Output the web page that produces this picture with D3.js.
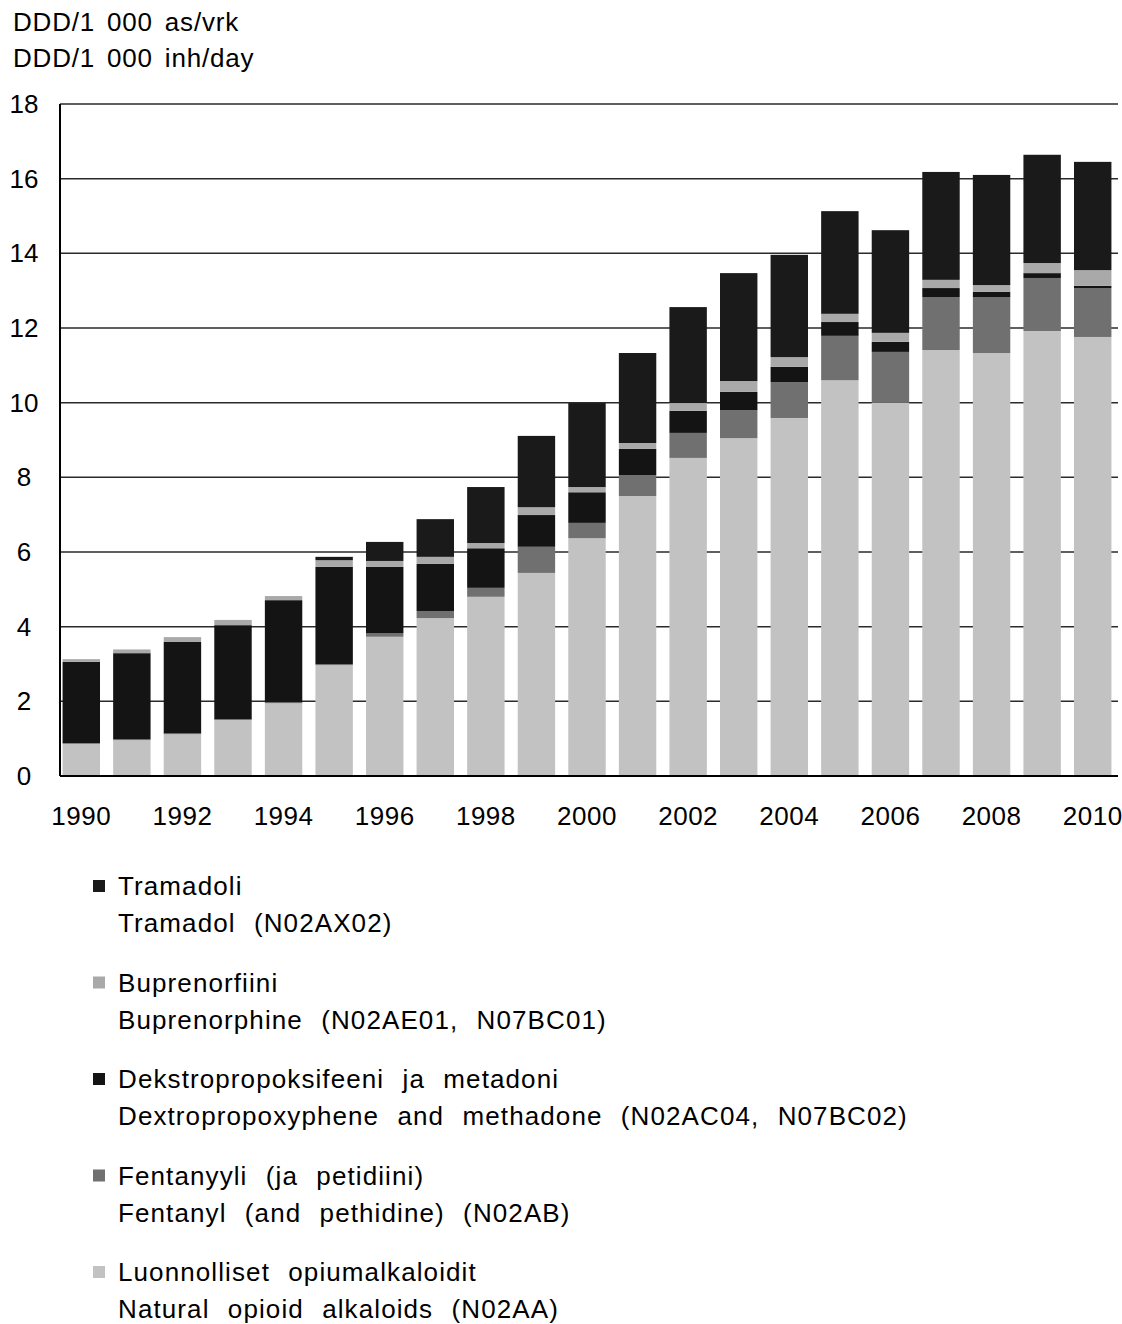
<!DOCTYPE html>
<html lang="fi">
<head>
<meta charset="UTF-8">
<title>Opioidien kulutus</title>
<script src="https://cdn.jsdelivr.net/npm/d3@7"></script>
<style>
  body { margin: 0; background: #fff; }
  svg { display: block; font-family: "Liberation Sans", Arial, sans-serif; }
</style>
</head>
<body>
<svg id="chart" width="1122" height="1324"></svg>
<script>
// years on the x axis
const years = d3.range(1990, 2011);
const yearLabels = years.filter(y => y % 2 === 0);
const yTicks = [0, 2, 4, 6, 8, 10, 12, 14, 16, 18];

// DDD/1000 inh/day (bottom to top of the stack)
const natural  = [0.86, 0.96, 1.12, 1.50, 1.95, 2.97, 3.73, 4.23, 4.80, 5.44, 6.37, 7.50, 8.52, 9.05, 9.59, 10.60, 10.00, 11.41, 11.33, 11.92, 11.76];
const fentanyl = [0.02, 0.02, 0.02, 0.02, 0.02, 0.03, 0.10, 0.19, 0.24, 0.70, 0.41, 0.56, 0.67, 0.75, 0.96, 1.19, 1.36, 1.42, 1.50, 1.42, 1.31];
const dextro   = [2.18, 2.31, 2.45, 2.52, 2.74, 2.60, 1.77, 1.26, 1.06, 0.85, 0.82, 0.70, 0.59, 0.49, 0.41, 0.37, 0.27, 0.24, 0.14, 0.13, 0.06];
const bupren   = [0.07, 0.10, 0.13, 0.14, 0.11, 0.18, 0.16, 0.19, 0.14, 0.21, 0.14, 0.16, 0.21, 0.29, 0.26, 0.22, 0.24, 0.22, 0.18, 0.27, 0.42];
const tramadol = [0.00, 0.00, 0.00, 0.00, 0.00, 0.09, 0.51, 1.01, 1.50, 1.91, 2.25, 2.41, 2.57, 2.89, 2.74, 2.75, 2.75, 2.89, 2.95, 2.90, 2.90];

const keys = ['natural', 'fentanyl', 'dextro', 'bupren', 'tramadol'];
const colors = { natural: '#c2c2c2', fentanyl: '#707070', dextro: '#141414', bupren: '#a9a9a9', tramadol: '#1a1a1a' };

// legend, top entry first
const legendItems = [
  { key: 'tramadol', fi: 'Tramadoli', en: 'Tramadol (N02AX02)' },
  { key: 'bupren', fi: 'Buprenorfiini', en: 'Buprenorphine (N02AE01, N07BC01)' },
  { key: 'dextro', fi: 'Dekstropropoksifeeni ja metadoni', en: 'Dextropropoxyphene and methadone (N02AC04, N07BC02)' },
  { key: 'fentanyl', fi: 'Fentanyyli (ja petidiini)', en: 'Fentanyl (and pethidine) (N02AB)' },
  { key: 'natural', fi: 'Luonnolliset opiumalkaloidit', en: 'Natural opioid alkaloids (N02AA)' }
];

const rows = years.map((year, i) => ({
  year,
  natural: natural[i], fentanyl: fentanyl[i], dextro: dextro[i], bupren: bupren[i], tramadol: tramadol[i]
}));

const svg = d3.select('#chart');
const plotLeft = 60, plotRight = 1118, plotTop = 104, plotBottom = 776;

const x = d3.scaleBand()
  .domain(years)
  .range([56, plotRight])
  .paddingInner(0.26)
  .paddingOuter(0.13);

const y = d3.scaleLinear()
  .domain([0, 18])
  .range([plotBottom, plotTop]);

// header
svg.append('text').attr('x', 13).attr('y', 31).attr('font-size', 26)
  .attr('letter-spacing', 0.8).attr('word-spacing', 4).text('DDD/1 000 as/vrk');
svg.append('text').attr('x', 13).attr('y', 67).attr('font-size', 26)
  .attr('letter-spacing', 0.8).attr('word-spacing', 4).text('DDD/1 000 inh/day');

// gridlines
svg.append('g')
  .selectAll('line')
  .data(yTicks.filter(d => d > 0))
  .join('line')
  .attr('x1', plotLeft).attr('x2', plotRight)
  .attr('y1', d => y(d)).attr('y2', d => y(d))
  .attr('stroke', '#2a2a2a')
  .attr('stroke-width', 1.5);

// stacked bars
const stacked = d3.stack().keys(keys)(rows);
svg.append('g')
  .selectAll('g')
  .data(stacked)
  .join('g')
  .attr('fill', d => colors[d.key])
  .selectAll('rect')
  .data(d => d)
  .join('rect')
  .attr('x', d => x(d.data.year))
  .attr('width', x.bandwidth())
  .attr('y', d => y(d[1]))
  .attr('height', d => y(d[0]) - y(d[1]));

// axis lines
svg.append('line').attr('x1', plotLeft).attr('x2', plotLeft).attr('y1', plotTop).attr('y2', plotBottom)
  .attr('stroke', '#000').attr('stroke-width', 2);
svg.append('line').attr('x1', plotLeft).attr('x2', plotRight).attr('y1', plotBottom).attr('y2', plotBottom)
  .attr('stroke', '#000').attr('stroke-width', 2);

// y tick labels
svg.append('g')
  .selectAll('text')
  .data(yTicks)
  .join('text')
  .attr('x', 24)
  .attr('y', d => y(d) + 9)
  .attr('text-anchor', 'middle')
  .attr('font-size', 26)
  .text(d => d);

// x tick labels
svg.append('g')
  .selectAll('text')
  .data(yearLabels)
  .join('text')
  .attr('x', d => x(d) + x.bandwidth() / 2)
  .attr('y', 825)
  .attr('text-anchor', 'middle')
  .attr('font-size', 26)
  .attr('letter-spacing', 0.5)
  .text(d => d);

// legend
const lg = svg.append('g')
  .selectAll('g')
  .data(legendItems)
  .join('g')
  .attr('transform', (d, i) => `translate(0, ${886 + i * 96.5})`);

lg.append('rect')
  .attr('x', 93).attr('y', -6).attr('width', 12).attr('height', 12)
  .attr('fill', d => colors[d.key]);

lg.selectAll('text.line')
  .data(d => [d.fi, d.en])
  .join('text')
  .attr('class', 'line')
  .attr('x', 118)
  .attr('y', (d, i) => i === 0 ? 9 : 46)
  .attr('font-size', 26)
  .attr('letter-spacing', 1.1)
  .attr('word-spacing', 10)
  .text(d => d);
</script>
</body>
</html>
